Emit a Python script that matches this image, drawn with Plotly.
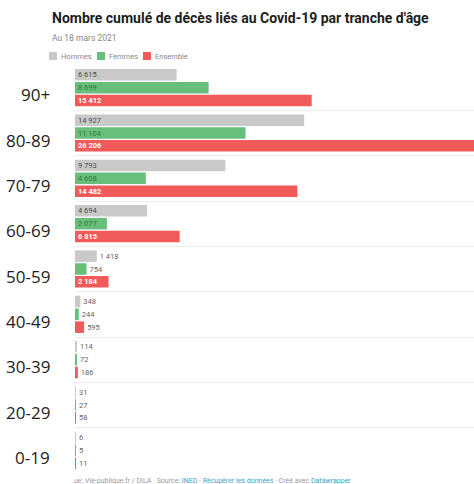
import plotly.graph_objects as go

# ---- data ----
age_groups = ["90+", "80-89", "70-79", "60-69", "50-59", "40-49", "30-39", "20-29", "0-19"]
series_names = ["Hommes", "Femmes", "Ensemble"]
hommes = [6615, 14927, 9793, 4694, 1418, 348, 114, 31, 6]
femmes = [8699, 11104, 4608, 2077, 754, 244, 72, 27, 5]
ensemble = [15412, 26206, 14482, 6815, 2184, 595, 186, 58, 11]

title = "Nombre cumulé de décès liés au Covid-19 par tranche d'âge"
subtitle = "Au 18 mars 2021"

colors = ["#c9c9c9", "#67bf7b", "#f05b59"]
inside_colors = ["#4a4a4a", "#2f7a3c", "#ffffff"]
inside_weights = ["normal", "normal", "bold"]

W, H = 474, 484
ML, MR, MT, MB = 75, 0, 65, 11
PW, PH = W - ML - MR, H - MT - MB


def px_x(px):
    return (px - ML) / PW


def px_y(py):
    return (H - MB - py) / PH


def fmt(v):
    return f"{v:,}".replace(",", " ")


fig = go.Figure()
for name, vals, col, icol, iw in zip(series_names, [hommes, femmes, ensemble], colors,
                                     inside_colors, inside_weights):
    fig.add_trace(go.Bar(
        name=name,
        y=age_groups,
        x=vals,
        orientation="h",
        marker=dict(color=col, line=dict(width=0)),
        text=[fmt(v) for v in vals],
        textposition=["inside" if v >= 2000 else "outside" for v in vals],
        insidetextanchor="start",
        constraintext="none",
        insidetextfont=dict(color=icol, size=7.5, family="Roboto", weight=iw),
        outsidetextfont=dict(color="#666666", size=7.5, family="Roboto"),
        textangle=0,
        cliponaxis=True,
        hoverinfo="skip",
    ))

annotations = []
# age labels
for g in age_groups:
    annotations.append(dict(
        x=0, xref="paper", y=g, yref="y", text=g, showarrow=False,
        xanchor="right", yanchor="middle", xshift=-23, yshift=-7,
        font=dict(size=17, color="#222222", family="Open Sans"),
    ))

# title / subtitle
annotations.append(dict(
    x=px_x(50), y=px_y(18), xref="paper", yref="paper", text=f"<b>{title}</b>",
    showarrow=False, xanchor="left", yanchor="middle",
    font=dict(size=14, color="#1d1d1d", family="Roboto"),
))
annotations.append(dict(
    x=px_x(50), y=px_y(38), xref="paper", yref="paper", text=subtitle,
    showarrow=False, xanchor="left", yanchor="middle",
    font=dict(size=8.5, color="#888888", family="Roboto"),
))

# custom legend
shapes = []
legend_x = [49, 97, 143]
for lx, name, col in zip(legend_x, series_names, colors):
    shapes.append(dict(
        type="rect", xref="paper", yref="paper",
        x0=px_x(lx), x1=px_x(lx + 8), y0=px_y(60), y1=px_y(52),
        fillcolor=col, line=dict(width=0),
    ))
    annotations.append(dict(
        x=px_x(lx + 10), y=px_y(56), xref="paper", yref="paper", text=name,
        showarrow=False, xanchor="left", yanchor="middle",
        font=dict(size=7.5, color="#888888", family="Roboto"),
    ))

# footer
footer = ("ue: Vie-publique.fr / DILA · Source: <span style='color:#3ba3d0'>INED</span> · "
          "<span style='color:#3ba3d0'>Récupérer les données</span> · Créé avec "
          "<span style='color:#3ba3d0'>Datawrapper</span>")
annotations.append(dict(
    x=px_x(72), y=px_y(481), xref="paper", yref="paper", text=footer,
    showarrow=False, xanchor="left", yanchor="middle",
    font=dict(size=7, color="#999999", family="Roboto"),
))

fig.update_layout(
    width=W, height=H,
    margin=dict(l=ML, r=MR, t=MT, b=MB, pad=0),
    paper_bgcolor="white", plot_bgcolor="white",
    barmode="group", bargap=0.15, bargroupgap=0.1,
    showlegend=False,
    xaxis=dict(range=[0, 25980], visible=False, fixedrange=True),
    yaxis=dict(
        categoryorder="array", categoryarray=age_groups, autorange="reversed",
        showticklabels=False, ticks="", tickson="boundaries",
        showgrid=True, gridcolor="#ececec", gridwidth=1, zeroline=False,
        showline=False, fixedrange=True,
    ),
    annotations=annotations,
    shapes=shapes,
)

fig.write_html("out.html")
